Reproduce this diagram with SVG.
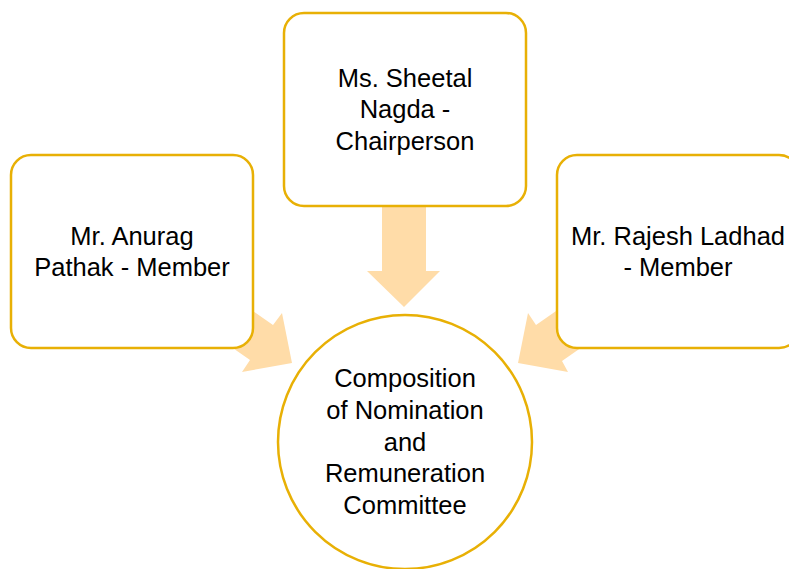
<svg xmlns="http://www.w3.org/2000/svg" width="789" height="569" viewBox="0 0 789 569">
<style>
.box{fill:#fff;stroke:#E8B005;stroke-width:2.5}
.arr{fill:#FFDCA8;stroke:none}
text{font-family:"Liberation Sans",Arial,sans-serif;font-size:25.5px;fill:#000;text-anchor:middle}
</style>
<rect width="789" height="569" fill="#fff"/>
<g id="connectors">
<polygon class="arr" points="382,200 426,200 426,271 440,271 404,307 367,271 382,271"/>
<polygon class="arr" points="240,302 273,325 282,313 292,363 242,372 250,360 217,337"/>
<polygon class="arr" points="569,302 536,325 528,313 518,363 568,372 562,361 595,338"/>
</g>
<g id="top">
<rect class="box" x="284" y="13" width="242" height="193" rx="20"/>
<text x="405" y="87">Ms. Sheetal</text>
<text x="405" y="118">Nagda -</text>
<text x="405" y="150">Chairperson</text>
</g>
<g id="left">
<rect class="box" x="11" y="155" width="242" height="193" rx="20"/>
<text x="132" y="245">Mr. Anurag</text>
<text x="132" y="276">Pathak - Member</text>
</g>
<g id="right">
<rect class="box" x="557" y="155" width="242" height="193" rx="20"/>
<text x="678" y="245">Mr. Rajesh Ladhad</text>
<text x="678" y="276">- Member</text>
</g>
<g id="center">
<circle class="box" cx="405" cy="442" r="127"/>
<text x="405" y="387">Composition</text>
<text x="405" y="419">of Nomination</text>
<text x="405" y="451">and</text>
<text x="405" y="482">Remuneration</text>
<text x="405" y="514">Committee</text>
</g>
</svg>
